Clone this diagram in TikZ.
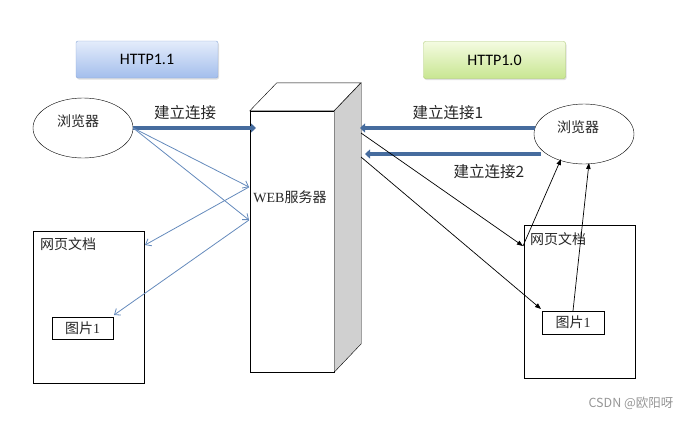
\documentclass[tikz,border=0pt]{standalone}
\usepackage{fontspec}
\setmainfont{Liberation Serif}
\newfontfamily\cjkfont{Noto Sans CJK SC}
\newfontfamily\calfont{Carlito}
\usetikzlibrary{shapes.geometric,arrows.meta,shadows}
\definecolor{thickblue}{RGB}{70,108,158}
\definecolor{thinblue}{RGB}{100,138,188}
\definecolor{srvgray}{RGB}{208,208,208}
\definecolor{wmgray}{RGB}{150,150,150}
\definecolor{bluedraw}{RGB}{140,168,215}
\definecolor{bluetop}{RGB}{228,236,251}
\definecolor{bluebot}{RGB}{163,190,236}
\definecolor{greendraw}{RGB}{170,200,110}
\definecolor{greentop}{RGB}{244,251,225}
\definecolor{greenbot}{RGB}{200,230,145}
\tikzset{
  hdr/.style={rounded corners=2pt, minimum width=142pt, minimum height=37pt,
    inner sep=0pt, font=\calfont\fontsize{16}{18}\selectfont,
    drop shadow={opacity=0.25,shadow xshift=1pt,shadow yshift=-1.5pt}},
  browser/.style={draw, ellipse, minimum width=100pt, minimum height=60pt, inner sep=0pt},
  docbox/.style={draw, rectangle, inner sep=0pt},
  cjktxt/.style={font=\fontsize{14}{16}\selectfont, text=black!85},
  cjklbl/.style={font=\cjkfont\fontsize{14}{16}\selectfont, text=black!85},
  lbl/.style={font=\cjkfont\fontsize{15.5}{18}\selectfont, text=black!85, inner sep=0pt},
  thickarrow/.style={draw=thickblue, line width=4.5pt, -{Triangle[length=5pt,width=9pt]}},
  thinarrow/.style={draw=thinblue, line width=0.8pt, -{Straight Barb[length=5pt,width=8pt]}},
  blackarrow/.style={draw=black, line width=0.7pt, -{Triangle[length=6pt,width=4.5pt]}},
}
\begin{document}
\begin{tikzpicture}[x=1pt,y=-1pt]
\useasboundingbox (0,0) rectangle (696,421);

% header boxes
\node[hdr, draw=bluedraw, top color=bluetop, bottom color=bluebot] (h11) at (147,59.5) {HTTP1.1};
\node[hdr, draw=greendraw, top color=greentop, bottom color=greenbot] (h10) at (494.5,60) {HTTP1.0};

% server
\node[draw, rectangle, fill=white, minimum width=84pt, minimum height=261pt, inner sep=0pt] (srv) at (292,241.5) {};
\draw[fill=white] (srv.north west) -- ++(27,-28) -- ++(84,0) -- (srv.north east) -- cycle;
\draw[fill=srvgray] (srv.north east) -- ++(27,-28) -- ++(0,261) -- (srv.south east) -- cycle;
\node[cjktxt, inner sep=0pt] (srvlbl) at (290,197) {WEB{\cjkfont 服务器}};

% browsers
\node[browser, label={[cjklbl,xshift=-5pt,yshift=7pt]center:浏览器}] (b1) at (83,128) {};
\node[browser, label={[cjklbl,xshift=-6pt,yshift=7pt]center:浏览器}] (b2) at (584,134) {};

% documents
\node[docbox, minimum width=111pt, minimum height=152pt] (d1) at (88.5,307) {};
\node[cjklbl, anchor=west, inner sep=0pt] (d1t) at (40,244) {网页文档};
\node[docbox, minimum width=61pt, minimum height=22pt, cjktxt] (p1) at (82.5,328) {{\cjkfont 图片}1};

\node[docbox, minimum width=111pt, minimum height=153pt] (d2) at (579.5,301.5) {};
\node[cjklbl, anchor=west, inner sep=0pt] (d2t) at (530,239) {网页文档};
\node[docbox, minimum width=62pt, minimum height=23pt, cjktxt] (p2) at (573,322.5) {{\cjkfont 图片}1};

% coordinates for connector ends
\coordinate (s1) at (256,128);
\coordinate (sA) at (249,187);
\coordinate (sB) at (249,220);
\coordinate (d1e) at (145,245);
\coordinate (p1e) at (114,315);
\coordinate (r1s) at (535,128);
\coordinate (r1e) at (360,128);
\coordinate (r2s) at (541,154);
\coordinate (r2e) at (365,154);
\coordinate (k1) at (361,133);
\coordinate (k2) at (361,157);
\coordinate (d2e) at (523,246);
\coordinate (p2e) at (541,309);
\coordinate (b2a) at (561,159);
\coordinate (b2b) at (589,163);

% HTTP1.1 connections
\draw[thickarrow] (b1.east) -- (s1);
\node[lbl] (l1) at (185,113) {建立连接};
\draw[thinarrow] (b1.east) -- (sA);
\draw[thinarrow] (b1.east) -- (sB);
\draw[thinarrow] (sA) -- (d1e);
\draw[thinarrow] (sB) -- (p1e);

% HTTP1.0 connections
\draw[thickarrow] (r1s) -- (r1e);
\node[lbl] (l2) at (448,112.5) {建立连接1};
\draw[thickarrow] (r2s) -- (r2e);
\node[lbl] (l3) at (489,171.5) {建立连接2};
\draw[blackarrow] (k1) -- (d2e);
\draw[blackarrow] (k2) -- (p2e);
\draw[blackarrow] (d2e) -- (b2a);
\draw[blackarrow] (p2.north) -- (b2b);

% watermark
\node[font=\cjkfont\fontsize{12.5}{14}\selectfont, text=wmgray] (wm) at (631,403) {CSDN @欧阳呀};
\end{tikzpicture}
\end{document}
